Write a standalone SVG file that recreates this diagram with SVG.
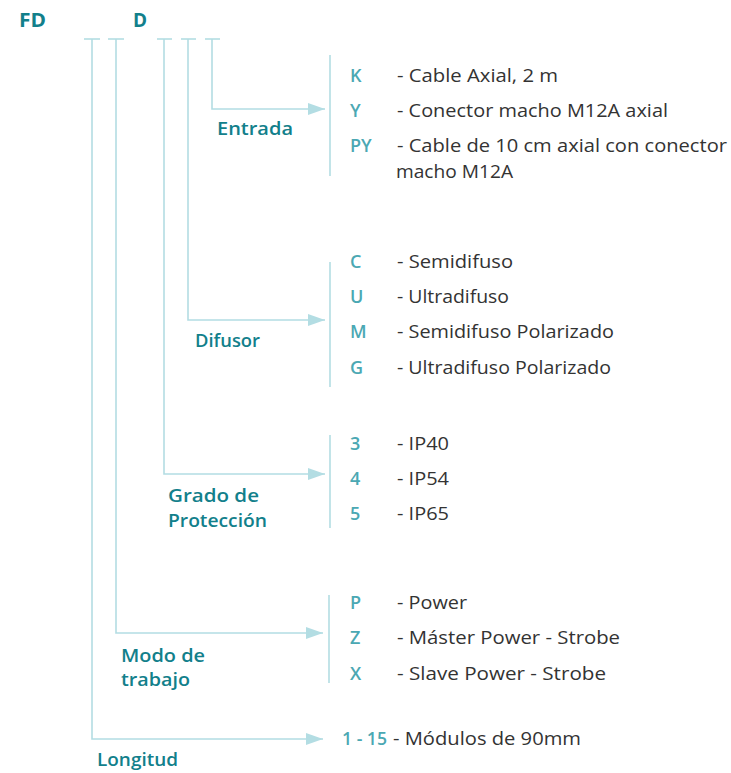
<svg xmlns="http://www.w3.org/2000/svg" width="731" height="773" viewBox="0 0 731 773">
<defs>
<style>
.ln{stroke:#b3dde3;stroke-width:1.6;fill:none}
.hd{font-family:"Open Sans","Liberation Sans",sans-serif;font-weight:700;font-size:19px;fill:#12808b}
.lb{font-family:"Open Sans","Liberation Sans",sans-serif;font-weight:600;font-size:18.5px;fill:#12808b}
.k{font-family:"Open Sans","Liberation Sans",sans-serif;font-weight:600;font-size:18px;fill:#4ba8b3}
.t{font-family:"Open Sans","Liberation Sans",sans-serif;font-weight:400;font-size:18px;fill:#333333}
</style>
<marker id="ah" markerWidth="17" markerHeight="12" refX="17" refY="6" orient="auto" markerUnits="userSpaceOnUse">
<path d="M0,0 L17,6 L0,12 Z" fill="#b3dde3"/>
</marker>
</defs>
<rect width="731" height="773" fill="#ffffff"/>
<g id="header">
<text class="hd" x="19" y="27" textLength="27" lengthAdjust="spacingAndGlyphs">FD</text>
<text class="hd" x="133" y="27">D</text>
</g>
<g id="connectors">
<line class="ln" x1="84" y1="39" x2="100" y2="39"/>
<line class="ln" x1="108" y1="39" x2="124" y2="39"/>
<line class="ln" x1="157" y1="39" x2="172" y2="39"/>
<line class="ln" x1="181" y1="39" x2="196" y2="39"/>
<line class="ln" x1="205" y1="39" x2="220" y2="39"/>
<polyline class="ln" points="212,39 212,109 325,109" marker-end="url(#ah)"/>
<polyline class="ln" points="188,39 188,320 325,320" marker-end="url(#ah)"/>
<polyline class="ln" points="164,39 164,474 325,474" marker-end="url(#ah)"/>
<polyline class="ln" points="116,39 116,633 323,633" marker-end="url(#ah)"/>
<polyline class="ln" points="92,39 92,739 323,739" marker-end="url(#ah)"/>
<line class="ln" x1="330" y1="55" x2="330" y2="176"/>
<line class="ln" x1="330" y1="262" x2="330" y2="387"/>
<line class="ln" x1="330" y1="435" x2="330" y2="528"/>
<line class="ln" x1="329" y1="595" x2="329" y2="683"/>
</g>
<g id="entrada">
<text class="lb" x="217" y="135" textLength="76" lengthAdjust="spacingAndGlyphs">Entrada</text>
<text class="k" x="350" y="82">K</text><text class="t" x="397" y="82" textLength="161" lengthAdjust="spacingAndGlyphs">- Cable Axial, 2 m</text>
<text class="k" x="350" y="117">Y</text><text class="t" x="397" y="117" textLength="271" lengthAdjust="spacingAndGlyphs">- Conector macho M12A axial</text>
<text class="k" x="350" y="152">PY</text><text class="t" x="397" y="152" textLength="330" lengthAdjust="spacingAndGlyphs">- Cable de 10 cm axial con conector</text>
<text class="t" x="396" y="178" textLength="117" lengthAdjust="spacingAndGlyphs">macho M12A</text>
</g>
<g id="difusor">
<text class="lb" x="195" y="347" textLength="65" lengthAdjust="spacingAndGlyphs">Difusor</text>
<text class="k" x="350" y="268">C</text><text class="t" x="397" y="268" textLength="116" lengthAdjust="spacingAndGlyphs">- Semidifuso</text>
<text class="k" x="350" y="303">U</text><text class="t" x="397" y="303" textLength="112" lengthAdjust="spacingAndGlyphs">- Ultradifuso</text>
<text class="k" x="350" y="338">M</text><text class="t" x="397" y="338" textLength="217" lengthAdjust="spacingAndGlyphs">- Semidifuso Polarizado</text>
<text class="k" x="350" y="374">G</text><text class="t" x="397" y="374" textLength="214" lengthAdjust="spacingAndGlyphs">- Ultradifuso Polarizado</text>
</g>
<g id="proteccion">
<text class="lb" x="168" y="502" textLength="91" lengthAdjust="spacingAndGlyphs">Grado de</text>
<text class="lb" x="168" y="527" textLength="99" lengthAdjust="spacingAndGlyphs">Protección</text>
<text class="k" x="350" y="450">3</text><text class="t" x="397" y="450" textLength="52" lengthAdjust="spacingAndGlyphs">- IP40</text>
<text class="k" x="350" y="485">4</text><text class="t" x="397" y="485" textLength="52" lengthAdjust="spacingAndGlyphs">- IP54</text>
<text class="k" x="350" y="520">5</text><text class="t" x="397" y="520" textLength="52" lengthAdjust="spacingAndGlyphs">- IP65</text>
</g>
<g id="modo">
<text class="lb" x="121" y="662" textLength="84" lengthAdjust="spacingAndGlyphs">Modo de</text>
<text class="lb" x="121" y="686" textLength="69" lengthAdjust="spacingAndGlyphs">trabajo</text>
<text class="k" x="350" y="609">P</text><text class="t" x="397" y="609" textLength="70" lengthAdjust="spacingAndGlyphs">- Power</text>
<text class="k" x="350" y="644">Z</text><text class="t" x="397" y="644" textLength="223" lengthAdjust="spacingAndGlyphs">- Máster Power - Strobe</text>
<text class="k" x="350" y="680">X</text><text class="t" x="397" y="680" textLength="209" lengthAdjust="spacingAndGlyphs">- Slave Power - Strobe</text>
</g>
<g id="longitud">
<text class="lb" x="97" y="766" textLength="81" lengthAdjust="spacingAndGlyphs">Longitud</text>
<text class="k" x="342" y="745" textLength="45" lengthAdjust="spacingAndGlyphs">1 - 15</text><text class="t" x="393" y="745" textLength="188" lengthAdjust="spacingAndGlyphs">- Módulos de 90mm</text>
</g>
</svg>
